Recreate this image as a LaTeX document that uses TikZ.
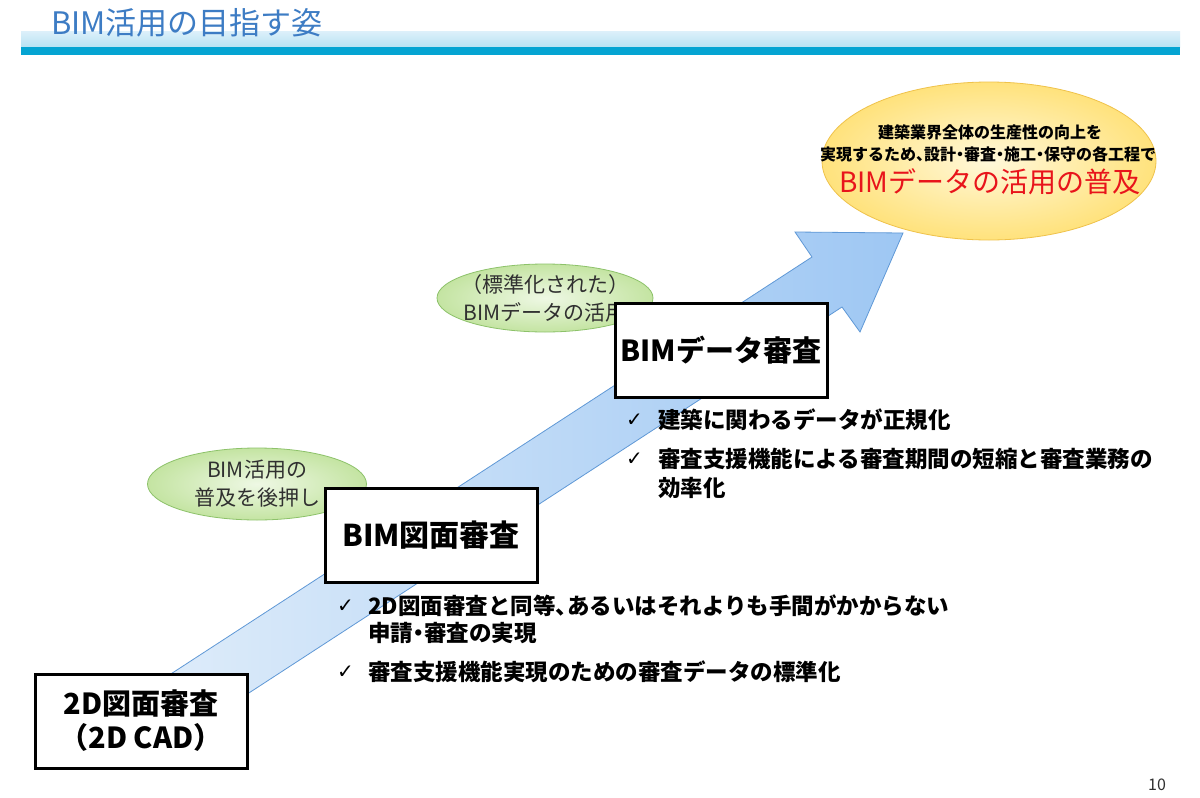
\documentclass[tikz,border=0pt]{standalone}
\usepackage{fontspec}
\setmainfont{Noto Sans CJK JP}
\newfontfamily\dejavu{DejaVu Sans}
\usetikzlibrary{shapes.geometric}
\newcommand\hcomma{\makebox[0.5em][l]{、}}
\newcommand\hdot{\makebox[0.5em][c]{・}}
\definecolor{titleblue}{HTML}{3D7CC4}
\definecolor{bandtop}{HTML}{DDF0FA}
\definecolor{bandbot}{HTML}{B8E2F3}
\definecolor{barcyan}{HTML}{05A4D2}
\definecolor{arrowlight}{HTML}{DEECFA}
\definecolor{arrowmid}{HTML}{BCD8F6}
\definecolor{arrowdark}{HTML}{9EC7F3}
\definecolor{arrowline}{HTML}{5F98D6}
\definecolor{greenin}{HTML}{EEF8E4}
\definecolor{greenout}{HTML}{C4E4A2}
\definecolor{greenline}{HTML}{8DC26A}
\definecolor{yellowin}{HTML}{FFF8DA}
\definecolor{yellowout}{HTML}{FFE27C}
\definecolor{yellowline}{HTML}{EFC24A}
\definecolor{textgray}{HTML}{303030}
\definecolor{bigred}{HTML}{E8141B}
\begin{document}
\begin{tikzpicture}[x=1pt,y=-1pt,
  stagebox/.style={draw=black, line width=3pt, fill=white, minimum width=212pt, minimum height=94pt, inner sep=0pt, font=\fontsize{29}{34}\selectfont\bfseries, align=center},
  greenell/.style={ellipse, draw=greenline, line width=0.8pt, inner color=greenin, outer color=greenout, inner sep=0pt},
  greentext/.style={font=\fontsize{21}{28}\selectfont, text=textgray, align=center, inner sep=0pt},
  checkmark/.style={font=\dejavu\fontsize{20}{20}\selectfont, anchor=west, inner sep=0pt},
  bullettext/.style={font=\fontsize{22.5}{22.5}\selectfont\bfseries, anchor=west, inner sep=0pt},
  yellowtext/.style={font=\fontsize{16}{16}\selectfont\bfseries, inner sep=0pt}
]
\useasboundingbox (0,0) rectangle (1200,798);
\fill[white] (0,0) rectangle (1200,798);

% header
\shade[top color=bandtop, bottom color=bandbot] (21,31) rectangle (1180,47);
\fill[barcyan] (21,47) rectangle (1180,55);
\node[anchor=west, inner sep=0pt, font=\fontsize{31}{31}\selectfont, text=titleblue] (title) at (51,23) {BIM活用の目指す姿};

% big arrow
\draw[draw=arrowline, line width=0.8pt, left color=arrowlight, middle color=arrowmid, right color=arrowdark]
  (160,681) -- (812,257) -- (795,232) -- (903,233) -- (860,332) -- (842,307) -- (192,730) -- cycle;

% yellow goal ellipse
\node[ellipse, draw=yellowline, line width=0.8pt, inner color=yellowin, outer color=yellowout, minimum width=334pt, minimum height=158pt, inner sep=0pt] (goal) at (989,161) {};
\node[yellowtext] (goal1) at (990,132) {建築業界全体の生産性の向上を};
\node[yellowtext] (goal2) at (988,154) {実現するため\hcomma 設計\hdot 審査\hdot 施工\hdot 保守の各工程で};
\node[inner sep=0pt, font=\fontsize{28}{28}\selectfont, text=bigred] (goal3) at (990,182) {BIMデータの活用の普及};

% green ellipses
\node[greenell, minimum width=216pt, minimum height=68pt] (std) at (545,298) {};
\node[greentext] (stdtext) at (std.center) {（標準化された）\\BIMデータの活用};
\node[greenell, minimum width=219pt, minimum height=72pt] (push) at (257,484) {};
\node[greentext] (pushtext) at (push.center) {BIM活用の\\普及を後押し};

% stage boxes
\node[stagebox] (cad) at (141,721) {2D図面審査\\（2D CAD）};
\node[stagebox, font=\fontsize{30}{34}\selectfont\bfseries] (bimdraw) at (431,535) {BIM図面審査};
\node[stagebox] (bimdata) at (721,350) {BIMデータ審査};

% bullets for BIM data review
\node[checkmark] (c1) at (626,420) {✓};
\node[bullettext] (t1) at (658,420) {建築に関わるデータが正規化};
\node[checkmark] (c2) at (626,459) {✓};
\node[bullettext] (t2) at (658,459) {審査支援機能による審査期間の短縮と審査業務の};
\node[bullettext] (t2b) at (658,488) {効率化};

% bullets for BIM drawing review
\node[checkmark] (c3) at (337,606) {✓};
\node[bullettext] (t3) at (368,606) {2D図面審査と同等\hcomma あるいはそれよりも手間がかからない};
\node[bullettext] (t3b) at (368,633) {申請\hdot 審査の実現};
\node[checkmark] (c4) at (337,672) {✓};
\node[bullettext] (t4) at (368,672) {審査支援機能実現のための審査データの標準化};

% page number
\node[inner sep=0pt, font=\fontsize{16}{16}\selectfont, text=textgray] (page) at (1157,785) {10};
\end{tikzpicture}
\end{document}
